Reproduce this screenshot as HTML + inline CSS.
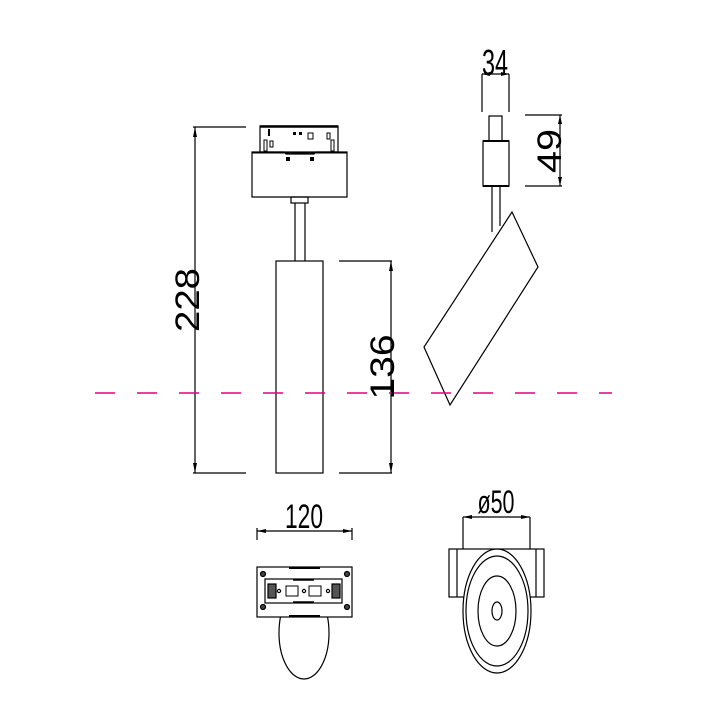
<!DOCTYPE html>
<html><head><meta charset="utf-8"><style>
html,body{margin:0;padding:0;background:#fff;}
svg{display:block;}
text{font-family:"Liberation Sans","DejaVu Sans",sans-serif;fill:#000;}
</style></head><body>
<svg width="717" height="717" viewBox="0 0 717 717" xmlns="http://www.w3.org/2000/svg">
<rect width="717" height="717" fill="#fff"/>
<g stroke="#000" fill="none" stroke-width="1.2">
<line x1="193" y1="127" x2="246" y2="127"/>
<line x1="193" y1="473" x2="246" y2="473"/>
<line x1="195" y1="127" x2="195" y2="473"/>
<rect x="260" y="126" width="78" height="26" fill="#fff"/>
<line x1="260" y1="126.5" x2="338" y2="126.5" stroke-width="2.5"/>
<rect x="268" y="129" width="2" height="7" fill="#000" stroke="none"/>
<rect x="264" y="140" width="3" height="11" stroke-width="1"/>
<rect x="270" y="141" width="3" height="6" stroke-width="1"/>
<rect x="293" y="132" width="3" height="3" fill="#000" stroke="none"/>
<rect x="299" y="132" width="3" height="3" fill="#000" stroke="none"/>
<rect x="308" y="133" width="5" height="6" stroke-width="1"/>
<rect x="327" y="133" width="3" height="6" stroke-width="1"/>
<rect x="331" y="140" width="3" height="11" stroke-width="1"/>
<path d="M252 152 H284 L286 154 H314 L316 152 H347 V197 H252 Z" fill="#fff"/>
<line x1="252" y1="152.5" x2="347" y2="152.5" stroke-width="2"/>
<rect x="286" y="157" width="4" height="4" fill="#000" stroke="none"/>
<rect x="310" y="157" width="4" height="4" fill="#000" stroke="none"/>
<rect x="291" y="197" width="17" height="6"/>
<line x1="295" y1="203" x2="295" y2="261"/>
<line x1="305" y1="203" x2="305" y2="261"/>
<rect x="276" y="261" width="47" height="212"/>
<line x1="339" y1="261" x2="392" y2="261"/>
<line x1="339" y1="473" x2="392" y2="473"/>
<line x1="391" y1="261" x2="391" y2="473"/>
<line x1="482" y1="74" x2="482" y2="112"/>
<line x1="509" y1="74" x2="509" y2="112"/>
<line x1="482" y1="74" x2="509" y2="74"/>
<line x1="525" y1="115" x2="562" y2="115"/>
<line x1="525" y1="186" x2="562" y2="186"/>
<line x1="560" y1="115" x2="560" y2="186"/>
<rect x="489" y="116" width="13" height="25"/>
<rect x="483" y="141" width="26" height="45" fill="#fff"/>
<line x1="483" y1="141" x2="509" y2="141" stroke-width="2"/>
<line x1="483" y1="186" x2="509" y2="186" stroke-width="2"/>
<line x1="492" y1="187" x2="492" y2="232"/>
<line x1="500" y1="187" x2="500" y2="226"/>
<polygon points="512,212 538,267 450,405 424,347" fill="#fff"/>
<line x1="257" y1="528" x2="257" y2="540"/>
<line x1="352" y1="528" x2="352" y2="540"/>
<line x1="257" y1="531" x2="352" y2="531"/>
<ellipse cx="304" cy="633" rx="25" ry="46"/>
<rect x="257" y="567" width="95" height="50" fill="#fff"/>
<rect x="265" y="579" width="77" height="24"/>
<line x1="289" y1="568" x2="320" y2="568" stroke-width="2"/>
<line x1="289" y1="616" x2="320" y2="616" stroke-width="2"/>
<line x1="293" y1="580" x2="314" y2="580" stroke-width="1.5"/>
<line x1="293" y1="602" x2="314" y2="602" stroke-width="1.5"/>
<circle cx="263" cy="574" r="2.5" fill="#444"/>
<circle cx="347" cy="574" r="2.5" fill="#444"/>
<circle cx="263" cy="607" r="2.5" fill="#444"/>
<circle cx="347" cy="607" r="2.5" fill="#444"/>
<rect x="268" y="584" width="8" height="14" fill="#555"/>
<rect x="332" y="584" width="8" height="14" fill="#555"/>
<circle cx="279" cy="591" r="1.6"/>
<circle cx="304" cy="591" r="1.6"/>
<circle cx="328" cy="591" r="1.6"/>
<rect x="286" y="586" width="12" height="10" stroke-width="1"/>
<rect x="309" y="586" width="12" height="10" stroke-width="1"/>
<line x1="463" y1="517" x2="530" y2="517"/>
<line x1="463" y1="517" x2="463" y2="549"/>
<line x1="530" y1="517" x2="530" y2="549"/>
<rect x="449" y="549" width="95" height="48"/>
<line x1="457" y1="549" x2="457" y2="597"/>
<line x1="536" y1="549" x2="536" y2="597"/>
<ellipse cx="497" cy="611" rx="34" ry="62" fill="#fff"/>
<ellipse cx="497" cy="611" rx="31" ry="55"/>
<ellipse cx="497" cy="611" rx="19" ry="35"/>
<ellipse cx="497" cy="611" rx="5" ry="9"/>
</g>
<g fill="#000">
<polygon points="195,127 193,137 197,137"/>
<polygon points="195,473 193,463 197,463"/>
<polygon points="391,261 389,271 393,271"/>
<polygon points="391,473 389,463 393,463"/>
<polygon points="482,74 490,72 490,76"/>
<polygon points="509,74 501,72 501,76"/>
<polygon points="560,115 558,124 562,124"/>
<polygon points="560,186 558,177 562,177"/>
<polygon points="257,531 266,529 266,533"/>
<polygon points="352,531 343,529 343,533"/>
<polygon points="463,517 472,515 472,519"/>
<polygon points="530,517 521,515 521,519"/>
</g>
<line x1="95" y1="393" x2="612" y2="393" stroke="#e0007a" stroke-width="1.4" stroke-dasharray="20,22"/>
<text x="0" y="0" font-size="34" text-anchor="middle" textLength="64" lengthAdjust="spacingAndGlyphs" transform="translate(199,300) rotate(-90)">228</text>
<text x="0" y="0" font-size="34" text-anchor="middle" textLength="65" lengthAdjust="spacingAndGlyphs" transform="translate(394,367) rotate(-90)">136</text>
<text x="495" y="75" font-size="36" text-anchor="middle" textLength="26" lengthAdjust="spacingAndGlyphs">34</text>
<text x="0" y="0" font-size="34" text-anchor="middle" textLength="44" lengthAdjust="spacingAndGlyphs" transform="translate(561,151) rotate(-90)">49</text>
<text x="304" y="528" font-size="34" text-anchor="middle" textLength="38" lengthAdjust="spacingAndGlyphs">120</text>
<text x="496" y="513" font-size="32" text-anchor="middle" textLength="37" lengthAdjust="spacingAndGlyphs">ø50</text>
</svg>
</body></html>
